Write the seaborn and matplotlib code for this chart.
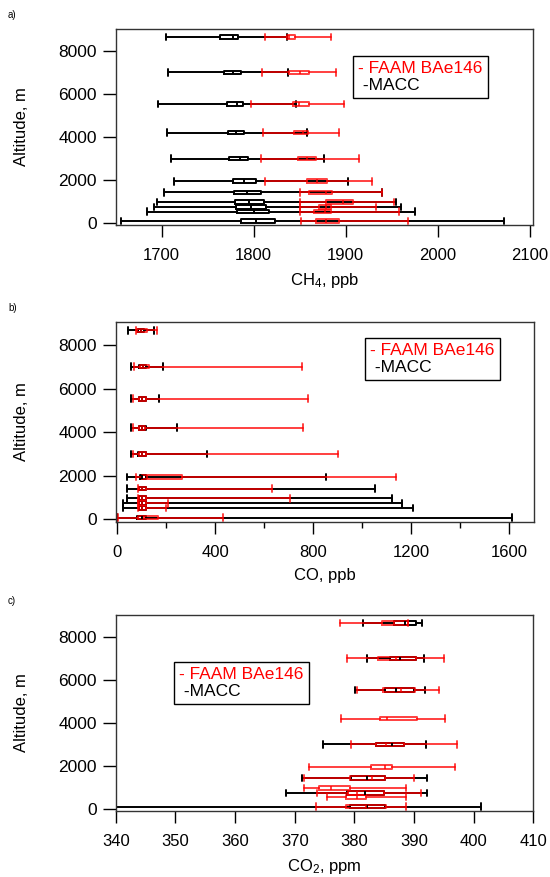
import matplotlib
matplotlib.use("Agg")
import matplotlib.pyplot as plt
import seaborn as sns
from matplotlib.lines import Line2D

# altitude of each box row (m), bottom to top
ALT = [90, 530, 740, 970, 1420, 1940, 3000, 4210, 5540, 7020, 8680]

# rows: [whisker low, q1, median, q3, whisker high]
ch4_faam = [[1851, 1868, 1879, 1893, 1968], [1850, 1866, 1877, 1884, 1958],
            [1850, 1871, 1879, 1884, 1933], [1850, 1879, 1897, 1908, 1952],
            [1850, 1860, 1879, 1885, 1940], [1812, 1858, 1869, 1880, 1929],
            [1808, 1848, 1858, 1868, 1915], [1810, 1844, 1854, 1859, 1893],
            [1797, 1843, 1849, 1860, 1898], [1809, 1838, 1850, 1860, 1889],
            [1812, 1836, 1838, 1845, 1884]]
ch4_macc = [[1656, 1786, 1803, 1823, 2072], [1684, 1782, 1800, 1817, 1975],
            [1692, 1781, 1797, 1813, 1960], [1695, 1780, 1795, 1811, 1955],
            [1702, 1779, 1793, 1808, 1940], [1713, 1777, 1790, 1803, 1903],
            [1710, 1773, 1785, 1794, 1876], [1706, 1772, 1781, 1789, 1858],
            [1696, 1771, 1782, 1788, 1846], [1707, 1768, 1778, 1786, 1837],
            [1705, 1763, 1777, 1783, 1836]]

co_faam = [[4, 86, 110, 167, 430], [82, 90, 100, 115, 199],
           [86, 90, 100, 115, 208], [86, 90, 100, 115, 704],
           [82, 90, 100, 115, 632], [75, 100, 120, 262, 1139],
           [65, 88, 100, 115, 900], [65, 88, 100, 112, 759],
           [65, 88, 100, 115, 779], [69, 93, 105, 130, 752],
           [76, 79, 95, 120, 161]]
co_macc = [[0, 81, 102, 117, 1611], [24, 88, 100, 117, 1205],
           [24, 88, 100, 117, 1161], [38, 88, 100, 117, 1120],
           [38, 90, 102, 117, 1051], [38, 92, 102, 117, 851],
           [54, 86, 100, 117, 367], [54, 88, 100, 115, 242],
           [54, 88, 100, 115, 171], [56, 90, 104, 117, 185],
           [45, 83, 97, 110, 151]]

co2_faam = [[373.5, 378.6, 382.0, 385.3, 388.6], [375.4, 378.6, 380.4, 382.0, 388.6],
            [373.8, 379.0, 380.4, 385.0, 391.1], [371.6, 374.1, 376.1, 379.2, 388.6],
            [371.5, 379.2, 383.0, 385.1, 390.0], [372.4, 382.8, 385.2, 386.3, 396.9],
            [379.4, 383.7, 385.3, 388.3, 397.2], [377.7, 384.3, 385.5, 390.5, 395.2],
            [380.5, 384.8, 387.9, 390.1, 394.2], [378.7, 383.9, 387.0, 390.4, 395.0],
            [377.6, 384.7, 386.6, 389.0, 389.0]]
co2_macc = [[339.0, 379.2, 382.2, 385.2, 401.3], None,
            [368.6, 378.8, 381.8, 384.9, 392.1], None,
            [371.3, 379.5, 382.2, 385.2, 392.1], None,
            [374.7, 383.7, 386.3, 388.3, 392.0], None,
            [380.1, 385.1, 387.0, 390.0, 391.8], [382.2, 386.0, 387.6, 390.4, 391.6],
            [381.5, 386.6, 388.5, 390.4, 391.3]]

sns.set_style("ticks")
plt.rcParams['font.family'] = ['Liberation Sans', 'DejaVu Sans']
plt.rcParams['mathtext.default'] = 'regular'
plt.rcParams['text.color'] = 'black'
plt.rcParams['axes.labelcolor'] = 'black'
plt.rcParams['xtick.color'] = 'black'
plt.rcParams['ytick.color'] = 'black'


def draw_boxes(ax, rows, color, alpha):
    stats, pos = [], []
    for alt, r in zip(ALT, rows):
        if r is None:
            continue
        stats.append(dict(whislo=r[0], q1=r[1], med=r[2], q3=r[3], whishi=r[4], fliers=[]))
        pos.append(alt)
    lp = dict(color=color, linewidth=1.4, alpha=alpha)
    ax.bxp(stats, positions=pos, widths=170, capwidths=300, orientation='horizontal',
           showfliers=False, manage_ticks=False,
           boxprops=lp, whiskerprops=lp, capprops=lp, medianprops=lp)


def legend_box(ax, x, y):
    h = [Line2D([], [], linestyle='none'), Line2D([], [], linestyle='none')]
    leg = ax.legend(h, ['- FAAM BAe146', ' -MACC'], loc='upper left', bbox_to_anchor=(x, y),
                    handlelength=0, handletextpad=0, fontsize=12.5, labelcolor=['red', 'black'],
                    fancybox=False, framealpha=1, borderpad=0.3, labelspacing=0.1,
                    borderaxespad=0)
    leg.get_frame().set_edgecolor('black')
    leg.get_frame().set_linewidth(1.0)


fig = plt.figure(figsize=(5.5, 8.77), dpi=100)
axes = [fig.add_axes([0.2104, 0.7434, 0.7593, 0.2236]),
        fig.add_axes([0.2104, 0.4052, 0.7600, 0.2273]),
        fig.add_axes([0.2104, 0.0756, 0.7593, 0.2231])]

panels = [(ch4_faam, ch4_macc, (1650, 2104), [1700, 1800, 1900, 2000, 2100], 'CH$_4$, ppb', (0.5675, 0.864), 'a)'),
          (co_faam, co_macc, (-7, 1700), [0, 400, 800, 1200, 1600], 'CO, ppb', (0.596, 0.923), 'b)'),
          (co2_faam, co2_macc, (340, 410), list(range(340, 411, 10)), 'CO$_2$, ppm', (0.1396, 0.761), 'c)')]

for ax, (faam, macc, xlim, xt, xlab, lpos, tag) in zip(axes, panels):
    draw_boxes(ax, macc, 'black', 1.0)
    draw_boxes(ax, faam, 'red', 0.75)
    ax.set_xlim(*xlim)
    ax.set_ylim(-100, 9050)
    ax.set_xticks(xt)
    if tag == 'b)':
        ax.set_xticks([200, 600, 1000, 1400], minor=True)
        ax.tick_params(axis='x', which='minor', direction='out', length=4.5, width=1, bottom=True)
    ax.set_yticks([0, 2000, 4000, 6000, 8000])
    ax.tick_params(axis='x', which='major', direction='out', length=8.5, width=1, labelsize=12, pad=8)
    ax.tick_params(axis='y', direction='out', length=9.5, width=1, labelsize=12.5, pad=4)
    for s in ax.spines.values():
        s.set_linewidth(1.0)
        s.set_color('#333333')
    ax.set_xlabel(xlab, fontsize=12, labelpad=6)
    ax.set_ylabel('Altitude, m', fontsize=12, labelpad=21)
    legend_box(ax, *lpos)
    bb = ax.get_position()
    fig.text(0.0145, bb.y1 + 0.016, tag, fontsize=7, va='center', ha='left')

plt.savefig('out.png', dpi=100)
